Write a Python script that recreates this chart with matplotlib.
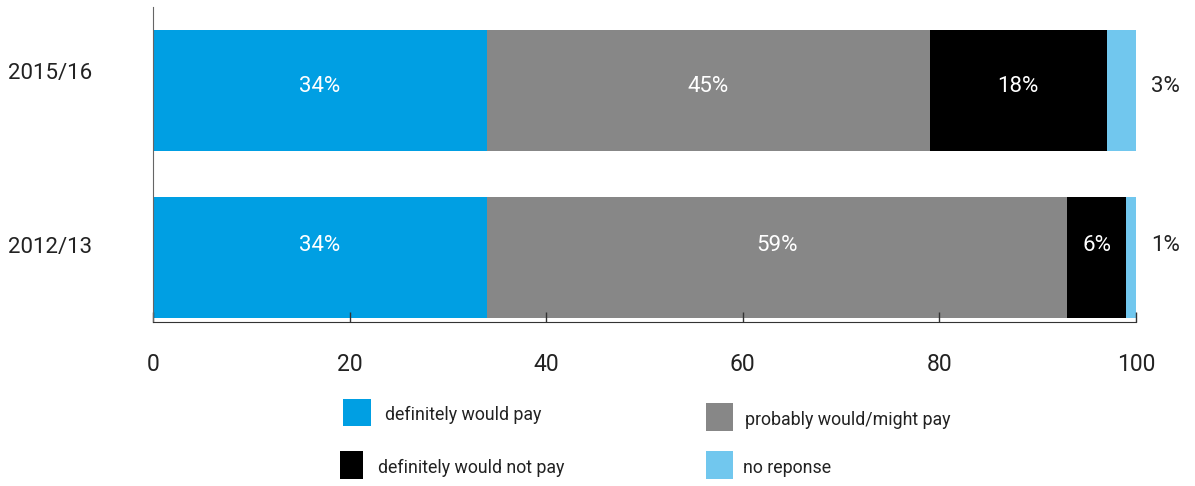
import matplotlib
matplotlib.use("Agg")
import matplotlib.pyplot as plt
from matplotlib.patches import Rectangle

plt.rcParams["font.family"] = ["Roboto", "DejaVu Sans"]

# survey years (top to bottom) and share of answers per category
years = ["2015/16", "2012/13"]
categories = ["definitely would pay", "probably would/might pay",
              "definitely would not pay", "no reponse"]
values = {
    "definitely would pay": [34, 34],
    "probably would/might pay": [45, 59],
    "definitely would not pay": [18, 6],
    "no reponse": [3, 1],
}
colors = ["#009fe3", "#878787", "#000000", "#71c7ee"]
xticks = [0, 20, 40, 60, 80, 100]

fig = plt.figure(figsize=(11.95, 4.86), dpi=100)
ax = fig.add_axes([153 / 1195, (486 - 322) / 486, (1136 - 153) / 1195, (322 - 7) / 486])

ypos = [1, 0]
height = 0.7246
# labels sit a little above the bar centre
label_shift = [0.025, 0.075]
year_shift = [0.10, 0.063]

left = [0, 0]
for cat, col in zip(categories, colors):
    vals = values[cat]
    ax.barh(ypos, vals, left=left, height=height, color=col, linewidth=0)
    for y, v, l, dy in zip(ypos, vals, left, label_shift):
        if v >= 5:
            ax.text(l + v / 2, y + dy, f"{v}%", ha="center", va="center",
                    color="white", fontsize=16)
        else:
            ax.text(103, y + dy, f"{v}%", ha="center", va="center",
                    color="#222222", fontsize=16, clip_on=False)
    left = [a + b for a, b in zip(left, vals)]

ax.set_xlim(0, 100)
ax.set_ylim(-0.386, 1.5)
ax.set_xticks(xticks)
ax.tick_params(axis="x", direction="in", length=7, width=1, pad=22,
               labelsize=16.5, labelcolor="#222222", color="#333333")
ax.set_yticks([])
for s in ["top", "right"]:
    ax.spines[s].set_visible(False)
ax.spines["left"].set_color("#666666")
ax.spines["bottom"].set_color("#333333")

# year labels on the left
for y, lab, dy in zip(ypos, years, year_shift):
    ax.text(-145 / 983 * 100, y + dy, lab, ha="left", va="center", fontsize=16,
            color="#222222", clip_on=False)

# legend laid out as a 2x2 grid under the axis
legend_boxes = [(343, 399, 28, 27), (706, 403, 27, 28),
                (340, 451, 23, 28), (706, 451, 27, 28)]
legend_text = [(385, 415), (745, 420), (378, 468), (743, 468)]
for cat, col, (bx, by, bw, bh), (tx, ty) in zip(categories, colors, legend_boxes, legend_text):
    fig.patches.append(Rectangle((bx / 1195, 1 - (by + bh) / 486), bw / 1195, bh / 486,
                                 transform=fig.transFigure, facecolor=col,
                                 edgecolor="none"))
    fig.text(tx / 1195, 1 - ty / 486, cat, ha="left", va="center",
             fontsize=12.8, color="#222222")

fig.savefig("out.png", dpi=100, facecolor="white")
